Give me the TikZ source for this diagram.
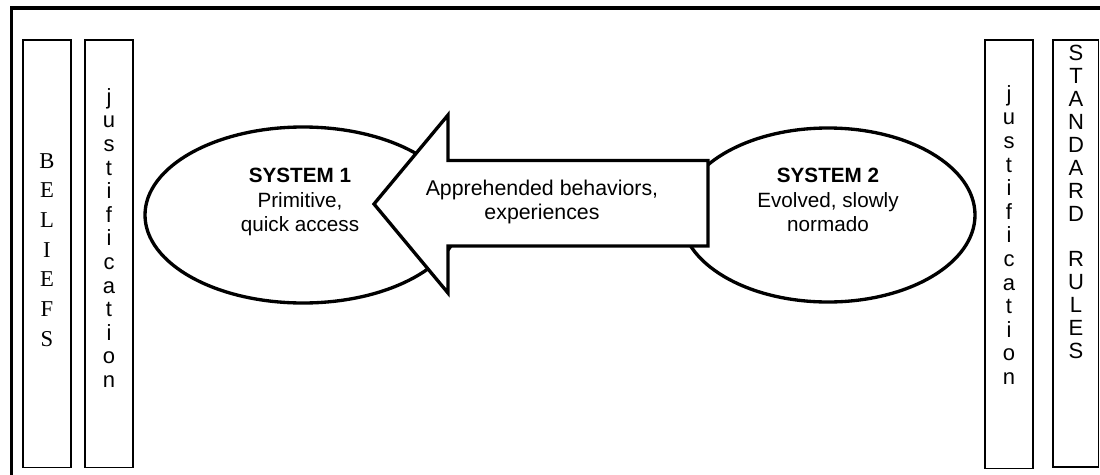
\documentclass[tikz,border=0pt]{standalone}
\usepackage{fontspec}
\setmainfont{Liberation Serif}
\setsansfont{Liberation Sans}
\usetikzlibrary{shapes.geometric}
\begin{document}
\begin{tikzpicture}[x=0.75pt,y=-0.75pt,
  colbox/.style={draw, line width=1pt},
  sysellipse/.style={ellipse, draw, line width=2.5pt, inner sep=0pt},
  stack/.style={align=center, inner sep=0pt, font=\sffamily\fontsize{16.5}{17.7}\selectfont},
  systext/.style={align=center, inner sep=0pt, font=\sffamily\fontsize{15.5}{18.4}\selectfont},
]
\useasboundingbox (0,0) rectangle (1100,475);
\clip (0,0) rectangle (1100,475);
\fill[white] (0,0) rectangle (1100,475);

% outer frame (only top and left edges fall inside the page)
\draw[line width=2.6pt] (11.7,8) rectangle (1120,500);

% side columns
\draw[colbox] (23,40) rectangle (71,467.5);
\draw[colbox] (85,40) rectangle (133,467.5);
\draw[colbox] (985,40) rectangle (1033,468.5);
\draw[colbox] (1053,40) rectangle (1098.5,467);

\node[align=center, inner sep=0pt, font=\rmfamily\fontsize{17}{22.25}\selectfont] (beliefs) at (47,250)
  {B\\E\\L\\I\\E\\F\\S};
\node[stack] (justL) at (109,238)
  {j\\u\\s\\t\\i\\f\\i\\c\\a\\t\\i\\o\\n};
\node[stack] (justR) at (1009,235)
  {j\\u\\s\\t\\i\\f\\i\\c\\a\\t\\i\\o\\n};
\node[stack, font=\sffamily\fontsize{16.5}{17.2}\selectfont] (rules) at (1076,202)
  {S\\T\\A\\N\\D\\A\\R\\D\\\mbox{}\\R\\U\\L\\E\\S};

% the two systems
\node[sysellipse, minimum width=237pt, minimum height=132pt] (sys1) at (303,215) {};
\node[sysellipse, minimum width=220.5pt, minimum height=130.5pt] (sys2) at (828,215) {};

% block arrow from system 2 towards system 1
\filldraw[fill=white, line width=2.5pt, line join=miter]
  (374,204) -- (448,115) -- (448,160.5) -- (708,160.5) -- (708,246)
  -- (448,246) -- (448,293) -- cycle;

\node[systext] (sys1txt) at (300,202) {\textbf{SYSTEM 1}\\Primitive,\\quick access};
\node[systext] (sys2txt) at (828,200) {\textbf{SYSTEM 2}\\Evolved, slowly\\normado};
\node[align=center, inner sep=0pt, font=\sffamily\fontsize{16}{17.6}\selectfont] (flow) at (542,202)
  {Apprehended behaviors,\\experiences};
\end{tikzpicture}
\end{document}
